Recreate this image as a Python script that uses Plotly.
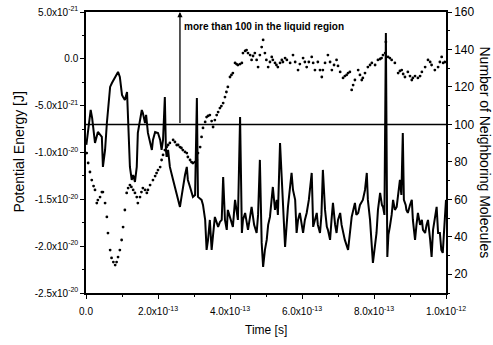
import numpy as np
import plotly.graph_objects as go

# ---- data (time in ps, energy in 1e-21 J, neighbours in count) ----
pe_time_ps = [0.001,0.006,0.013,0.017,0.025,0.033,0.044,0.047,0.053,0.058,0.067,0.072,0.081,0.089,0.094,0.100,0.103,0.108,0.114,0.117,
0.122,0.127,0.131,0.136,0.141,0.144,0.150,0.155,0.158,0.164,0.167,0.172,0.183,0.186,0.192,0.200,0.206,0.210,0.214,0.219,
0.222,0.224,0.228,0.233,0.242,0.252,0.256,0.261,0.264,0.269,0.275,0.280,0.283,0.289,0.297,0.303,0.308,0.311,0.321,0.325,
0.331,0.335,0.339,0.344,0.349,0.353,0.358,0.367,0.372,0.377,0.381,0.386,0.391,0.394,0.400,0.408,0.414,0.419,0.422,0.428,
0.433,0.436,0.442,0.450,0.456,0.460,0.467,0.474,0.478,0.483,0.488,0.492,0.497,0.502,0.506,0.511,0.519,0.525,0.530,0.533,
0.539,0.544,0.547,0.553,0.561,0.567,0.571,0.575,0.581,0.585,0.589,0.594,0.600,0.603,0.608,0.613,0.619,0.627,0.631,0.636,
0.641,0.644,0.650,0.654,0.658,0.664,0.669,0.672,0.678,0.682,0.686,0.692,0.696,0.700,0.706,0.710,0.714,0.719,0.728,0.733,
0.738,0.747,0.751,0.756,0.761,0.769,0.775,0.780,0.783,0.789,0.793,0.797,0.803,0.807,0.811,0.817,0.822,0.825,0.829,0.833,
0.837,0.840,0.844,0.849,0.853,0.858,0.863,0.867,0.872,0.876,0.880,0.883,0.888,0.890,0.894,0.900,0.905,0.908,0.914,0.918,
0.922,0.928,0.933,0.936,0.942,0.946,0.950,0.956,0.960,0.964,0.969,0.974,0.978,0.983,0.987,0.991,0.994,0.997,1.000]
pe_e21 = [-9.19,-7.38,-5.46,-6.31,-8.98,-7.81,-8.34,-11.54,-9.73,-6.85,-3.00,-2.58,-1.94,-1.40,-1.94,-3.86,-4.07,-4.39,-3.54,-7.27,
-11.54,-12.93,-12.40,-13.14,-11.54,-7.91,-6.53,-5.46,-5.78,-6.85,-5.99,-7.91,-9.73,-8.66,-7.81,-7.91,-8.66,-9.73,-8.66,-4.07,
-9.73,-10.47,-9.73,-11.54,-12.93,-14.32,-15.06,-15.81,-15.06,-13.68,-12.40,-11.54,-12.93,-13.68,-14.74,-14.53,-4.18,-14.74,-15.06,-15.60,
-17.20,-20.40,-19.33,-17.20,-20.40,-18.80,-16.88,-17.94,-17.41,-17.20,-12.61,-17.20,-18.26,-16.13,-16.88,-17.94,-15.06,-16.45,-17.20,-6.21,
-18.59,-17.20,-16.45,-18.26,-16.66,-15.81,-17.73,-18.59,-16.66,-10.79,-19.65,-22.21,-20.40,-19.33,-17.73,-16.88,-13.68,-16.13,-15.06,-16.66,
-8.98,-12.93,-16.13,-20.08,-15.81,-14.00,-12.18,-14.00,-15.06,-18.59,-17.20,-16.45,-17.73,-18.59,-17.20,-16.45,-15.06,-12.18,-17.94,-17.20,
-16.45,-17.73,-18.59,-16.66,-11.86,-16.13,-17.94,-18.26,-19.33,-17.20,-15.38,-17.73,-18.59,-17.20,-16.45,-17.73,-18.59,-19.33,-20.40,-18.26,
-16.88,-15.38,-16.66,-16.45,-15.60,-15.06,-14.00,-12.18,-15.06,-17.20,-19.33,-21.79,-19.87,-18.59,-16.13,-14.32,-15.60,-15.81,-16.66,2.76,
-21.15,-18.80,-17.94,-16.66,-15.06,-16.13,-15.81,-14.53,-12.93,-14.53,-7.91,-15.06,-15.60,-16.13,-16.45,-15.60,-15.06,-17.20,-19.33,-17.73,
-16.45,-17.73,-17.20,-18.26,-18.59,-17.73,-17.20,-19.33,-21.15,-18.26,-16.88,-15.81,-18.59,-18.59,-20.40,-20.72,-18.80,-17.20,-15.06]

nb_time_ps = [0.002,0.006,0.011,0.016,0.021,0.025,0.030,0.033,0.039,0.044,0.047,0.053,0.058,0.061,0.067,0.071,0.076,0.081,0.085,0.089,
0.094,0.099,0.103,0.108,0.113,0.117,0.122,0.126,0.131,0.136,0.141,0.144,0.150,0.154,0.158,0.164,0.169,0.172,0.178,0.186,
0.192,0.196,0.200,0.206,0.210,0.214,0.219,0.224,0.228,0.233,0.242,0.247,0.252,0.256,0.261,0.265,0.269,0.275,0.280,0.283,
0.289,0.293,0.297,0.303,0.308,0.311,0.317,0.321,0.325,0.331,0.335,0.339,0.344,0.349,0.353,0.358,0.363,0.367,0.372,0.376,
0.381,0.386,0.390,0.394,0.400,0.404,0.408,0.414,0.418,0.422,0.428,0.433,0.436,0.442,0.446,0.450,0.456,0.460,0.464,0.469,
0.474,0.478,0.483,0.488,0.492,0.497,0.501,0.506,0.511,0.516,0.519,0.525,0.529,0.533,0.539,0.544,0.547,0.553,0.558,0.567,
0.575,0.581,0.589,0.594,0.603,0.608,0.613,0.619,0.627,0.631,0.636,0.644,0.650,0.655,0.658,0.664,0.672,0.678,0.683,0.689,
0.696,0.700,0.706,0.714,0.719,0.724,0.728,0.733,0.738,0.742,0.747,0.756,0.761,0.766,0.769,0.775,0.783,0.789,0.794,0.803,
0.811,0.817,0.821,0.825,0.831,0.833,0.839,0.844,0.849,0.858,0.867,0.872,0.877,0.881,0.886,0.894,0.900,0.905,0.908,0.914,
0.922,0.928,0.933,0.942,0.950,0.956,0.960,0.969,0.978,0.983,0.988,0.992,0.997]
nb_count = [84.7,79.4,74.6,70.3,67.1,65.0,58.0,59.6,61.2,63.9,63.9,58.0,50.6,42.0,32.9,28.7,26.5,24.9,26.5,29.2,
32.9,38.3,45.2,54.3,63.4,66.0,67.6,66.6,65.0,63.4,61.2,58.0,61.2,63.9,66.0,65.0,63.4,65.0,67.6,70.3,
72.4,74.0,75.6,77.2,81.0,83.7,86.3,87.9,89.0,90.1,91.7,90.6,89.0,89.0,87.9,87.4,86.3,85.3,84.7,82.6,
81.0,79.9,79.4,79.9,81.0,84.7,87.9,93.3,98.1,101.3,103.9,104.5,105.0,101.8,98.6,102.3,105.0,106.6,108.7,109.8,
111.4,114.6,117.3,120.0,125.3,126.4,127.4,132.8,132.2,131.7,132.2,132.8,138.1,139.2,139.7,138.1,137.0,134.4,136.5,138.1,
134.4,130.6,137.0,141.3,145.1,138.1,134.4,130.6,133.3,136.0,134.4,132.8,131.7,130.6,132.8,134.4,133.3,135.4,134.4,132.8,
137.0,133.3,129.0,132.2,135.4,133.3,130.6,133.3,136.0,132.8,129.0,133.3,129.0,125.3,129.0,132.8,137.0,133.3,129.0,131.7,
134.4,131.2,128.0,124.8,125.8,126.4,127.4,128.0,118.4,121.0,123.7,129.0,126.4,123.7,124.8,127.4,130.6,131.7,132.8,131.7,
134.4,134.9,135.4,137.0,138.1,144.0,136.0,135.4,134.4,132.8,127.4,128.5,129.0,126.9,125.3,128.0,125.8,123.7,124.8,125.8,
124.8,125.8,128.0,130.6,134.4,133.3,131.7,129.0,130.6,133.3,136.0,132.8,133.3]

x_tickvals = [0, 2e-13, 4e-13, 6e-13, 8e-13, 1e-12]
x_ticktext = ["0.0", "2.0x10<sup>-13</sup>", "4.0x10<sup>-13</sup>", "6.0x10<sup>-13</sup>",
              "8.0x10<sup>-13</sup>", "1.0x10<sup>-12</sup>"]
y_tickvals = [5e-21, 0, -5e-21, -1e-20, -1.5e-20, -2e-20, -2.5e-20]
y_ticktext = ["5.0x10<sup>-21</sup>", "0.0", "-5.0x10<sup>-21</sup>", "-1.0x10<sup>-20</sup>",
              "-1.5x10<sup>-20</sup>", "-2.0x10<sup>-20</sup>", "-2.5x10<sup>-20</sup>"]
y2_tickvals = [20, 40, 60, 80, 100, 120, 140, 160]
threshold = 100
arrow_time_ps = 0.261
note_text = "more than 100 in the liquid region"

t_pe = np.array(pe_time_ps) * 1e-12
e_pe = np.array(pe_e21) * 1e-21
t_nb = np.array(nb_time_ps) * 1e-12

fig = go.Figure()
fig.add_trace(go.Scatter(x=t_pe, y=e_pe, mode="lines",
                         line=dict(color="black", width=2), yaxis="y", showlegend=False))
fig.add_trace(go.Scatter(x=t_nb, y=nb_count, mode="markers",
                         marker=dict(color="black", size=2.8), yaxis="y2", showlegend=False))

fnt = dict(family="Liberation Sans, Arial, sans-serif", color="black")
fig.update_layout(
    width=493, height=345,
    margin=dict(l=86, r=47, t=12, b=52),
    paper_bgcolor="white", plot_bgcolor="white",
    font=dict(**fnt, size=10),
    xaxis=dict(range=[0, 1e-12], tickvals=x_tickvals, ticktext=x_ticktext, automargin=False,
               showline=True, linecolor="black", linewidth=1.5, mirror=True,
               ticks="outside", ticklen=4, tickwidth=1.2, tickcolor="black",
               ticklabelstandoff=4,
               minor=dict(ticks="outside", ticklen=2, dtick=1e-13, tickcolor="black"),
               showgrid=False, zeroline=False, tickfont=dict(size=10)),
    yaxis=dict(range=[-2.5e-20, 5e-21], tickvals=y_tickvals, ticktext=y_ticktext, automargin=False,
               showline=True, linecolor="black", linewidth=1.5,
               ticks="outside", ticklen=4, tickwidth=1.2, tickcolor="black",
               minor=dict(ticks="outside", ticklen=2, dtick=2.5e-21, tickcolor="black"),
               showgrid=False, zeroline=False, tickfont=dict(size=10)),
    yaxis2=dict(range=[10, 160], tickvals=y2_tickvals, overlaying="y", side="right", automargin=False,
                showline=True, linecolor="black", linewidth=1.5,
                ticks="outside", ticklen=4, tickwidth=1.2, tickcolor="black",
                minor=dict(ticks="outside", ticklen=2, dtick=10, tickcolor="black"),
                showgrid=False, zeroline=False, tickfont=dict(size=12)),
)

fig.add_shape(type="line", xref="paper", x0=0, x1=1, yref="y2", y0=threshold, y1=threshold,
              line=dict(color="black", width=1.5))

fig.add_annotation(x=arrow_time_ps * 1e-12, y=160, xref="x", yref="y2",
                   ax=arrow_time_ps * 1e-12, ay=threshold, axref="x", ayref="y2",
                   text="", showarrow=True, arrowhead=2, arrowsize=0.8, arrowwidth=1.3,
                   arrowcolor="black")
fig.add_annotation(x=arrow_time_ps * 1e-12, y=152, xref="x", yref="y2", xanchor="left",
                   yanchor="middle", xshift=2, text="<b>" + note_text + "</b>", showarrow=False,
                   font=dict(**fnt, size=10))

fig.add_annotation(x=0.5, y=-0.13, xref="paper", yref="paper", xanchor="center", yanchor="middle",
                   text="Time [s]", showarrow=False, font=dict(**fnt, size=12))
fig.add_annotation(x=0, y=0.5, xref="paper", yref="paper", xanchor="center", yanchor="middle",
                   xshift=-68, text="Potential Energy [J]", textangle=-90, showarrow=False,
                   font=dict(**fnt, size=14))
fig.add_annotation(x=1, y=0.5, xref="paper", yref="paper", xanchor="center", yanchor="middle",
                   xshift=39, text="Number of Neighboring Molecules", textangle=90, showarrow=False,
                   font=dict(**fnt, size=14))

fig.write_html("out.html")
